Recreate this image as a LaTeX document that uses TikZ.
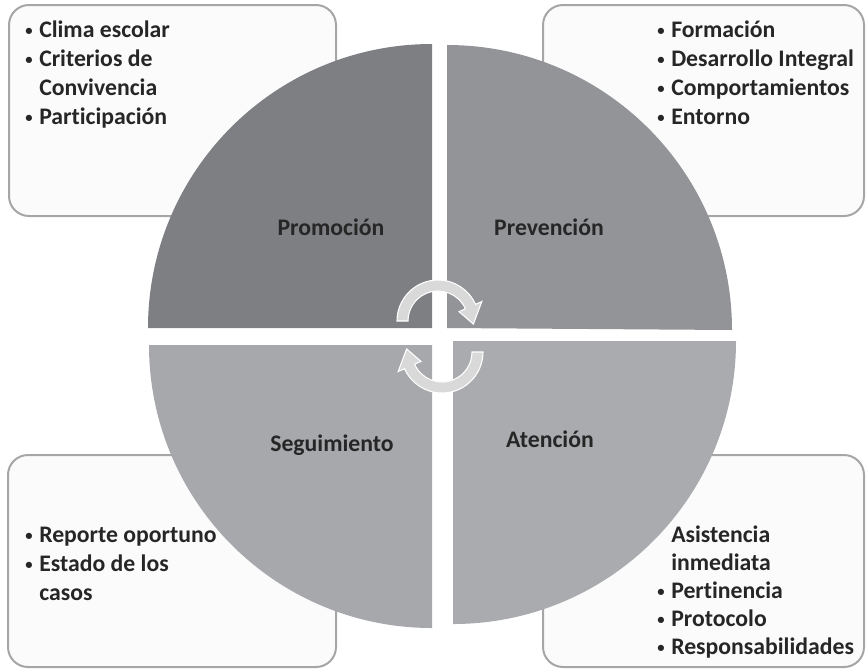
\documentclass[tikz,border=0pt]{standalone}
\usepackage{fontspec}
\setmainfont{Carlito}[Ligatures=NoCommon]

\definecolor{promo}{HTML}{7E7F83}
\definecolor{preven}{HTML}{939498}
\definecolor{segui}{HTML}{A7A8AC}
\definecolor{atenc}{HTML}{AAABAF}
\definecolor{boxline}{HTML}{A6A6A6}
\definecolor{boxfill}{HTML}{FBFBFB}
\definecolor{txt}{HTML}{262626}

\tikzset{
  listbox/.style={draw=boxline, line width=1.5pt, fill=boxfill, rounded corners=15pt},
  listtext/.style={anchor=base west, inner sep=0pt, text=txt, font=\bfseries\fontsize{17.8}{21.75}\selectfont},
  quadlabel/.style={anchor=base, inner sep=0pt, text=txt, font=\bfseries\fontsize{17.8}{20}\selectfont},
  cyclearrow/.pic={
    \filldraw[fill=black!15, draw=white, line width=0.8pt]
      (180:41) arc[start angle=180, end angle=24, radius=41] -- (24:48) -- (-5:35.5)
      -- (24:23) -- (24:30) arc[start angle=24, end angle=180, radius=30] -- cycle;
  }
}
\newcommand{\bul}{\makebox[10.5pt][l]{\raisebox{1.2pt}{\fontsize{11}{11}\selectfont •}}}
\newcommand{\nobul}{\hspace*{10.5pt}}

\begin{document}
\begin{tikzpicture}[x=0.75pt, y=0.75pt]
\useasboundingbox (0,0) rectangle (867,-669);

% boxes
\draw[listbox] (9,-5) rectangle (336,-216);
\draw[listbox] (543,-5) rectangle (864,-216);
\draw[listbox] (8,-455) rectangle (336,-667);
\draw[listbox] (543,-455) rectangle (864,-667);

\node[listtext] (promolist) at (25,-37) {\begin{tabular}[t]{@{}l@{}}
  \bul Clima escolar\\ \bul Criterios de\\ \nobul Convivencia\\ \bul Participación\end{tabular}};
\node[listtext] (prevenlist) at (657,-37) {\begin{tabular}[t]{@{}l@{}}
  \bul Formación\\ \bul Desarrollo Integral\\ \bul Comportamientos\\ \bul Entorno\end{tabular}};
\node[listtext] (seguilist) at (25,-542) {\begin{tabular}[t]{@{}l@{}}
  \bul Reporte oportuno\\ \bul Estado de los\\ \nobul casos\end{tabular}};
\node[listtext, font=\bfseries\fontsize{17.8}{21}\selectfont] (atenclist) at (657,-542) {\begin{tabular}[t]{@{}l@{}}
  \nobul Asistencia\\ \nobul inmediata\\ \bul Pertinencia\\ \bul Protocolo\\ \bul Responsabilidades\end{tabular}};

% quarters
\fill[promo] (432,-328) -- (148,-328) arc[start angle=180, end angle=90, radius=284] -- cycle;
\fill[preven] (447,-328) -- (447,-45) arc[start angle=90, end angle=0, radius=285] -- cycle;
\fill[segui] (432,-345) -- (149,-345) arc[start angle=180, end angle=270, radius=283] -- cycle;
\fill[atenc] (453,-341) -- (736,-341) arc[start angle=0, end angle=-90, radius=283] -- cycle;

\node[quadlabel] (promocion) at (331,-235) {Promoción};
\node[quadlabel] (prevencion) at (549,-235) {Prevención};
\node[quadlabel] (seguimiento) at (332,-451) {Seguimiento};
\node[quadlabel] (atencion) at (550,-447) {Atención};

% cycle arrows
\pic at (438,-321) {cyclearrow};
\pic[rotate=180] at (442,-352) {cyclearrow};
\end{tikzpicture}
\end{document}
